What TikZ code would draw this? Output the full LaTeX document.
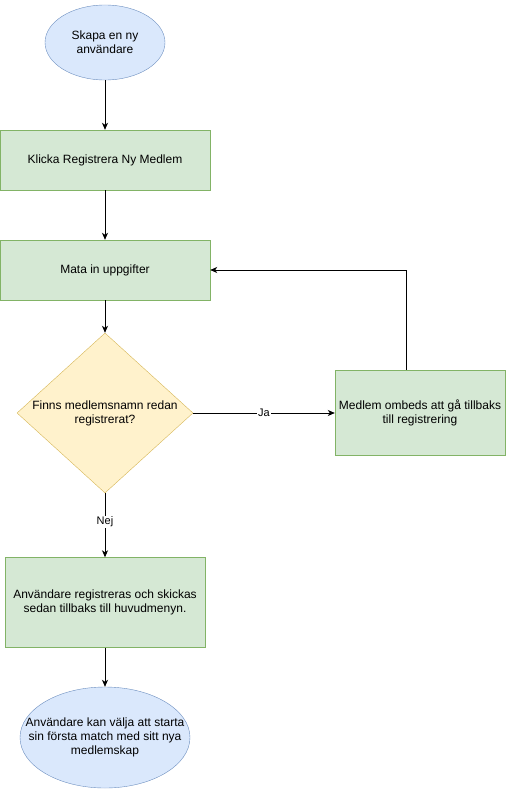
\documentclass[tikz,border=0pt]{standalone}
\usepackage{fontspec}
\setmainfont{Liberation Sans}
\usetikzlibrary{arrows.meta,shapes.geometric}
\definecolor{grnfill}{HTML}{D5E8D4}
\definecolor{grnline}{HTML}{82B366}
\definecolor{bluefill}{HTML}{DAE8FC}
\definecolor{blueline}{HTML}{6C8EBF}
\definecolor{yelfill}{HTML}{FFF2CC}
\definecolor{yelline}{HTML}{D6B656}
\tikzset{
	box/.style={draw=grnline, fill=grnfill, rectangle, inner sep=0pt, align=center},
	startend/.style={draw=blueline, fill=bluefill, ellipse, inner sep=0pt, align=center},
	decision/.style={draw=yelline, fill=yelfill, diamond, inner sep=0pt, minimum width=176pt, minimum height=160pt},
	flow/.style={line width=0.8pt, -{Stealth[length=7pt,width=6pt,inset=2pt]}},
	edgelabel/.style={fill=white, inner sep=1pt, font=\fontsize{11}{13}\selectfont}
}

\begin{document}
\begin{tikzpicture}[x=1pt, y=-1pt, font=\fontsize{12}{14}\selectfont]
			%%%%% START %%%%%
			\useasboundingbox (0, 0) rectangle (506, 789);
			
			\node[startend, minimum width=120pt, minimum height=75pt] (start) at (105, 42.5) {Skapa en ny\\användare};
			\node[box, minimum width=210pt, minimum height=60pt] (klicka) at (105, 160) {Klicka Registrera Ny Medlem};
			\node[box, minimum width=210pt, minimum height=60pt] (mata) at (105, 270) {Mata in uppgifter};
			
			\node[decision, label={[align=center]center:Finns medlemsnamn redan\\registrerat?}] (finns) at (105, 413) {};
			\node[box, minimum width=170pt, minimum height=85pt] (ombeds) at (420, 412.5) {Medlem ombeds att gå tillbaks\\till registrering};
			
			\node[box, minimum width=200pt, minimum height=90pt] (registreras) at (105, 602.5) {Användare registreras och skickas\\sedan tillbaks till huvudmenyn.};
			\node[startend, minimum width=170pt, minimum height=101pt, label={[align=center]center:Användare kan välja att starta\\sin första match med sitt nya\\medlemskap}] (valja) at (105, 737.5) {};
			
			\draw[flow] (start) -- (klicka);
			\draw[flow] (klicka) -- (mata);
			\draw[flow] (mata) -- (finns);
			\draw[flow] (finns.east) -- node[edgelabel] {Ja} (ombeds.west |- finns.east);
			\draw[flow] ([xshift=-14pt]ombeds.north) |- (mata.east);
			\draw[flow] (finns.south) -- node[edgelabel, pos=0.45] {Nej} (registreras.north);
			\draw[flow] (registreras) -- (valja);
			
			%%%%% END %%%%%
\end{tikzpicture}
\end{document}
